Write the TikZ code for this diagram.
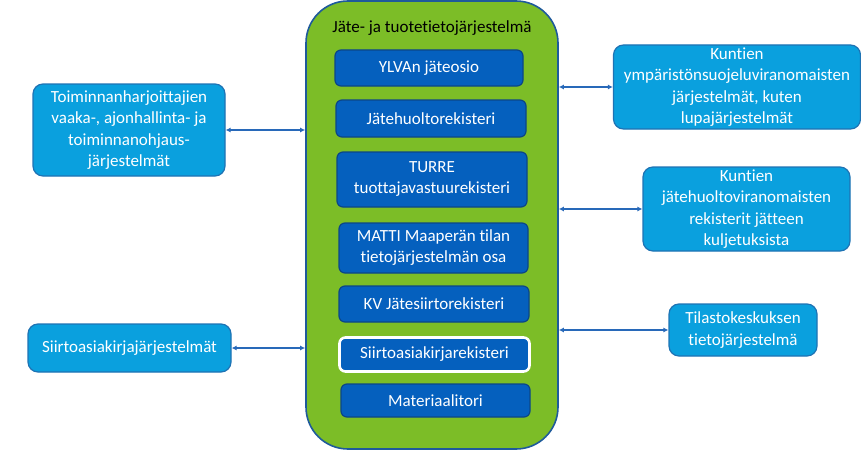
\documentclass[tikz,border=0pt]{standalone}
\usepackage{fontspec}
\setmainfont[Ligatures=NoCommon]{Carlito}
\usetikzlibrary{arrows.meta}
\definecolor{grn}{RGB}{124,189,39}
\definecolor{grnbd}{RGB}{30,90,155}
\definecolor{inbl}{RGB}{5,96,190}
\definecolor{inbd}{RGB}{12,70,135}
\definecolor{ltbl}{RGB}{10,160,222}
\definecolor{ltbd}{RGB}{30,115,180}
\definecolor{arr}{RGB}{40,105,185}
\tikzset{
  inbox/.style={draw=inbd, line width=1.2pt, fill=inbl, rounded corners=6pt, text=white, align=center, font=\fontsize{17}{21}\selectfont, inner sep=0pt},
  outbox/.style={draw=ltbd, line width=1.2pt, fill=ltbl, rounded corners=10pt, text=white, align=center, font=\fontsize{17}{21.3}\selectfont, inner sep=0pt},
  link/.style={draw=arr, line width=1.1pt, {Latex[length=5pt,width=5pt]}-{Latex[length=5pt,width=5pt]}}
}
\begin{document}
\begin{tikzpicture}[x=1pt,y=-1pt]
\useasboundingbox (0,0) rectangle (861,452);
\node[draw=grnbd, line width=1.6pt, fill=grn, rounded corners=42pt, minimum width=252pt, minimum height=448pt, inner sep=0pt] (g) at (432,225) {};
\node[font=\fontsize{17}{21}\selectfont] (t) at (432,28) {Jäte- ja tuotetietojärjestelmä};
\node[inbox, minimum width=188pt, minimum height=36pt] (i1) at (429,68) {YLVAn jäteosio};
\node[inbox, minimum width=190pt, minimum height=37pt] (i2) at (431,118.5) {Jätehuoltorekisteri};
\node[inbox, minimum width=190pt, minimum height=55pt] (i3) at (432,179.5) {TURRE\\tuottajavastuurekisteri};
\node[inbox, minimum width=189pt, minimum height=50pt] (i4) at (433.5,248) {MATTI Maaperän tilan\\tietojärjestelmän osa};
\node[inbox, minimum width=190pt, minimum height=36pt] (i5) at (434,304) {KV Jätesiirtorekisteri};
\node[inbox, draw=white, line width=2.6pt, minimum width=190pt, minimum height=34pt] (i6) at (434.5,354.5) {Siirtoasiakirjarekisteri};
\node[inbox, minimum width=189pt, minimum height=33pt] (i7) at (435.5,400.5) {Materiaalitori};
\node[outbox, minimum width=192pt, minimum height=92pt] (a) at (129,130) {Toiminnanharjoittajien\\vaaka-, ajonhallinta- ja\\toiminnanohjaus-\\järjestelmät};
\node[outbox, minimum width=203pt, minimum height=48pt] (b) at (129.5,348) {Siirtoasiakirjajärjestelmät};
\node[outbox, minimum width=247pt, minimum height=84pt] (c) at (737,87) {Kuntien\\ympäristönsuojeluviranomaisten\\järjestelmät, kuten\\lupajärjestelmät};
\node[outbox, minimum width=207pt, minimum height=84pt] (d) at (746.5,209) {Kuntien\\jätehuoltoviranomaisten\\rekisterit jätteen\\kuljetuksista};
\node[outbox, minimum width=148pt, minimum height=52pt] (e) at (743,330) {Tilastokeskuksen\\tietojärjestelmä};
\draw[link] (a.east) -- (a.east -| g.west);
\draw[link] (b.east) -- (b.east -| g.west);
\draw[link] (g.east |- c.west) -- (c.west);
\draw[link] (g.east |- d.west) -- (d.west);
\draw[link] (g.east |- e.west) -- (e.west);
\end{tikzpicture}
\end{document}
